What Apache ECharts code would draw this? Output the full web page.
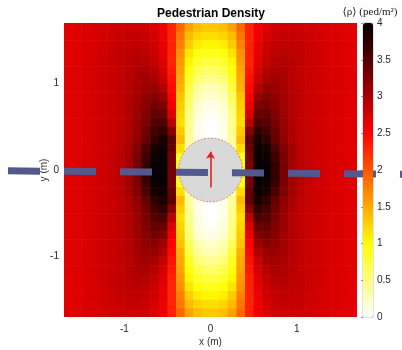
<!DOCTYPE html>
<html>
<head>
<meta charset="utf-8">
<script src="https://cdn.jsdelivr.net/npm/echarts@6/dist/echarts.min.js"></script>
<style>
  html, body { margin: 0; padding: 0; background: #ffffff; }
  #chart { width: 402px; height: 350px; }
</style>
</head>
<body>
<div id="chart"></div>
<script>
// Cell centres of the density grid (m)
const xCenters = [-1.65,-1.55,-1.45,-1.35,-1.25,-1.15,-1.05,-0.95,-0.85,-0.75,-0.65,-0.55,-0.45,-0.35,-0.25,-0.15,-0.05,
                  0.05,0.15,0.25,0.35,0.45,0.55,0.65,0.75,0.85,0.95,1.05,1.15,1.25,1.35,1.45,1.55,1.65];
const yCenters = [1.65,1.55,1.45,1.35,1.25,1.15,1.05,0.95,0.85,0.75,0.65,0.55,0.45,0.35,0.25,0.15,0.05,
                  -0.05,-0.15,-0.25,-0.35,-0.45,-0.55,-0.65,-0.75,-0.85,-0.95,-1.05,-1.15,-1.25,-1.35,-1.45,-1.55,-1.65];

// Mean density <rho> (ped/m^2), one row per yCenters entry, columns follow xCenters
const densityRows = [
  [2.66,2.68,2.7,2.72,2.74,2.77,2.79,2.8,2.8,2.77,2.7,2.58,2.3,1.9,1.55,1.38,1.32,1.32,1.38,1.55,1.9,2.3,2.58,2.7,2.77,2.8,2.8,2.79,2.77,2.74,2.72,2.7,2.68,2.66],
  [2.67,2.69,2.71,2.73,2.76,2.79,2.82,2.84,2.84,2.81,2.74,2.6,2.3,1.8,1.4,1.25,1.2,1.2,1.25,1.4,1.8,2.3,2.6,2.74,2.81,2.84,2.84,2.82,2.79,2.76,2.73,2.71,2.69,2.67],
  [2.67,2.69,2.71,2.74,2.76,2.8,2.84,2.86,2.87,2.84,2.77,2.63,2.3,1.75,1.3,1.1,1.05,1.05,1.1,1.3,1.75,2.3,2.63,2.77,2.84,2.87,2.86,2.84,2.8,2.76,2.74,2.71,2.69,2.67],
  [2.67,2.69,2.71,2.74,2.77,2.82,2.86,2.89,2.91,2.89,2.81,2.66,2.3,1.65,1.15,0.95,0.9,0.9,0.95,1.15,1.65,2.3,2.66,2.81,2.89,2.91,2.89,2.86,2.82,2.77,2.74,2.71,2.69,2.67],
  [2.67,2.69,2.71,2.74,2.78,2.83,2.88,2.92,2.95,2.94,2.86,2.7,2.3,1.6,1.05,0.82,0.75,0.75,0.82,1.05,1.6,2.3,2.7,2.86,2.94,2.95,2.92,2.88,2.83,2.78,2.74,2.71,2.69,2.67],
  [2.68,2.7,2.72,2.75,2.78,2.81,2.85,2.91,2.98,3.0,2.94,2.75,2.35,1.55,0.95,0.7,0.6,0.6,0.7,0.95,1.55,2.35,2.75,2.94,3.0,2.98,2.91,2.85,2.81,2.78,2.75,2.72,2.7,2.68],
  [2.68,2.7,2.72,2.75,2.78,2.82,2.86,2.92,3.0,3.05,3.02,2.83,2.4,1.5,0.85,0.55,0.45,0.45,0.55,0.85,1.5,2.4,2.83,3.02,3.05,3.0,2.92,2.86,2.82,2.78,2.75,2.72,2.7,2.68],
  [2.68,2.7,2.72,2.75,2.78,2.82,2.87,2.93,3.02,3.1,3.12,2.95,2.45,1.45,0.75,0.4,0.3,0.3,0.4,0.75,1.45,2.45,2.95,3.12,3.1,3.02,2.93,2.87,2.82,2.78,2.75,2.72,2.7,2.68],
  [2.68,2.7,2.72,2.75,2.78,2.82,2.87,2.94,3.04,3.15,3.22,3.1,2.5,1.35,0.65,0.3,0.2,0.2,0.3,0.65,1.35,2.5,3.1,3.22,3.15,3.04,2.94,2.87,2.82,2.78,2.75,2.72,2.7,2.68],
  [2.68,2.7,2.72,2.75,2.78,2.82,2.87,2.95,3.06,3.2,3.32,3.25,2.6,1.3,0.55,0.2,0.1,0.1,0.2,0.55,1.3,2.6,3.25,3.32,3.2,3.06,2.95,2.87,2.82,2.78,2.75,2.72,2.7,2.68],
  [2.68,2.7,2.72,2.75,2.78,2.82,2.87,2.95,3.08,3.25,3.42,3.4,2.7,1.25,0.5,0.15,0.05,0.05,0.15,0.5,1.25,2.7,3.4,3.42,3.25,3.08,2.95,2.87,2.82,2.78,2.75,2.72,2.7,2.68],
  [2.68,2.7,2.72,2.75,2.78,2.82,2.87,2.96,3.1,3.3,3.5,3.55,2.9,1.2,0.45,0.1,0,0,0.1,0.45,1.2,2.9,3.55,3.5,3.3,3.1,2.96,2.87,2.82,2.78,2.75,2.72,2.7,2.68],
  [2.68,2.7,2.72,2.75,2.78,2.83,2.88,2.97,3.12,3.35,3.6,3.7,3.2,1.3,0.45,0.1,0,0,0.1,0.45,1.3,3.2,3.7,3.6,3.35,3.12,2.97,2.88,2.83,2.78,2.75,2.72,2.7,2.68],
  [2.68,2.7,2.72,2.75,2.78,2.83,2.88,2.98,3.15,3.42,3.72,3.85,3.45,1.4,0.4,0.1,0,0,0.1,0.4,1.4,3.45,3.85,3.72,3.42,3.15,2.98,2.88,2.83,2.78,2.75,2.72,2.7,2.68],
  [2.68,2.7,2.72,2.75,2.78,2.83,2.9,3.03,3.24,3.55,3.85,3.92,3.4,1.2,0.3,0,0,0,0,0.3,1.2,3.4,3.92,3.85,3.55,3.24,3.03,2.9,2.83,2.78,2.75,2.72,2.7,2.68],
  [2.68,2.7,2.72,2.75,2.78,2.83,2.9,3.04,3.28,3.65,3.92,3.95,3.3,0.9,0,0,0,0,0,0,0.9,3.3,3.95,3.92,3.65,3.28,3.04,2.9,2.83,2.78,2.75,2.72,2.7,2.68],
  [2.68,2.7,2.72,2.75,2.78,2.83,2.9,3.05,3.3,3.7,3.95,3.95,3.3,0.9,0,0,0,0,0,0,0.9,3.3,3.95,3.95,3.7,3.3,3.05,2.9,2.83,2.78,2.75,2.72,2.7,2.68],
  [2.68,2.7,2.72,2.75,2.78,2.83,2.9,3.05,3.3,3.7,3.95,3.95,3.3,0.9,0,0,0,0,0,0,0.9,3.3,3.95,3.95,3.7,3.3,3.05,2.9,2.83,2.78,2.75,2.72,2.7,2.68],
  [2.68,2.7,2.72,2.75,2.78,2.83,2.9,3.04,3.28,3.65,3.92,3.95,3.3,0.9,0,0,0,0,0,0,0.9,3.3,3.95,3.92,3.65,3.28,3.04,2.9,2.83,2.78,2.75,2.72,2.7,2.68],
  [2.68,2.7,2.72,2.75,2.78,2.83,2.9,3.03,3.24,3.55,3.85,3.92,3.4,1.2,0.3,0,0,0,0,0.3,1.2,3.4,3.92,3.85,3.55,3.24,3.03,2.9,2.83,2.78,2.75,2.72,2.7,2.68],
  [2.68,2.7,2.72,2.75,2.78,2.83,2.88,2.98,3.15,3.42,3.72,3.85,3.45,1.4,0.4,0.1,0,0,0.1,0.4,1.4,3.45,3.85,3.72,3.42,3.15,2.98,2.88,2.83,2.78,2.75,2.72,2.7,2.68],
  [2.68,2.7,2.72,2.75,2.78,2.83,2.88,2.97,3.12,3.35,3.6,3.7,3.2,1.3,0.45,0.1,0,0,0.1,0.45,1.3,3.2,3.7,3.6,3.35,3.12,2.97,2.88,2.83,2.78,2.75,2.72,2.7,2.68],
  [2.68,2.7,2.72,2.75,2.78,2.82,2.87,2.96,3.1,3.3,3.5,3.55,2.9,1.2,0.45,0.1,0,0,0.1,0.45,1.2,2.9,3.55,3.5,3.3,3.1,2.96,2.87,2.82,2.78,2.75,2.72,2.7,2.68],
  [2.68,2.7,2.72,2.75,2.78,2.82,2.87,2.95,3.08,3.25,3.42,3.4,2.7,1.25,0.5,0.15,0.05,0.05,0.15,0.5,1.25,2.7,3.4,3.42,3.25,3.08,2.95,2.87,2.82,2.78,2.75,2.72,2.7,2.68],
  [2.68,2.7,2.72,2.75,2.78,2.82,2.87,2.95,3.06,3.2,3.32,3.25,2.6,1.3,0.55,0.2,0.1,0.1,0.2,0.55,1.3,2.6,3.25,3.32,3.2,3.06,2.95,2.87,2.82,2.78,2.75,2.72,2.7,2.68],
  [2.68,2.7,2.72,2.75,2.78,2.82,2.87,2.94,3.04,3.15,3.22,3.1,2.5,1.35,0.65,0.3,0.2,0.2,0.3,0.65,1.35,2.5,3.1,3.22,3.15,3.04,2.94,2.87,2.82,2.78,2.75,2.72,2.7,2.68],
  [2.68,2.7,2.72,2.75,2.78,2.82,2.87,2.93,3.02,3.1,3.12,2.95,2.45,1.45,0.75,0.4,0.3,0.3,0.4,0.75,1.45,2.45,2.95,3.12,3.1,3.02,2.93,2.87,2.82,2.78,2.75,2.72,2.7,2.68],
  [2.68,2.7,2.72,2.75,2.78,2.82,2.86,2.92,3.0,3.05,3.02,2.83,2.4,1.5,0.85,0.55,0.45,0.45,0.55,0.85,1.5,2.4,2.83,3.02,3.05,3.0,2.92,2.86,2.82,2.78,2.75,2.72,2.7,2.68],
  [2.68,2.7,2.72,2.75,2.78,2.81,2.85,2.91,2.98,3.0,2.94,2.75,2.35,1.55,0.95,0.7,0.6,0.6,0.7,0.95,1.55,2.35,2.75,2.94,3.0,2.98,2.91,2.85,2.81,2.78,2.75,2.72,2.7,2.68],
  [2.67,2.69,2.71,2.74,2.78,2.83,2.88,2.92,2.95,2.94,2.86,2.7,2.3,1.6,1.05,0.82,0.75,0.75,0.82,1.05,1.6,2.3,2.7,2.86,2.94,2.95,2.92,2.88,2.83,2.78,2.74,2.71,2.69,2.67],
  [2.67,2.69,2.71,2.74,2.77,2.82,2.86,2.89,2.91,2.89,2.81,2.66,2.3,1.65,1.15,0.95,0.9,0.9,0.95,1.15,1.65,2.3,2.66,2.81,2.89,2.91,2.89,2.86,2.82,2.77,2.74,2.71,2.69,2.67],
  [2.67,2.69,2.71,2.74,2.76,2.8,2.84,2.86,2.87,2.84,2.77,2.63,2.3,1.75,1.3,1.1,1.05,1.05,1.1,1.3,1.75,2.3,2.63,2.77,2.84,2.87,2.86,2.84,2.8,2.76,2.74,2.71,2.69,2.67],
  [2.67,2.69,2.71,2.73,2.76,2.79,2.82,2.84,2.84,2.81,2.74,2.6,2.3,1.8,1.4,1.25,1.2,1.2,1.25,1.4,1.8,2.3,2.6,2.74,2.81,2.84,2.84,2.82,2.79,2.76,2.73,2.71,2.69,2.67],
  [2.66,2.68,2.7,2.72,2.74,2.77,2.79,2.8,2.8,2.77,2.7,2.58,2.3,1.9,1.55,1.38,1.32,1.32,1.38,1.55,1.9,2.3,2.58,2.7,2.77,2.8,2.8,2.79,2.77,2.74,2.72,2.7,2.68,2.66]
];

// Axis tick labels
const xTicks = [-1, 0, 1];
const yTicks = [-1, 0, 1];

// Obstacle (circle centre and radius, m), walking direction arrow, lane line ends
const obstacle = [[0, 0, 0.37]];
const heading = [[0, -0.2], [0, 0.21]];
const laneLine = [[-2.35, -0.01], [2.4, -0.05]];

// Reversed "hot" colour map, evenly spaced stops from 0 to 4
const hotReversed = ['#ffffff', '#ffff80', '#ffff00', '#ffaa00', '#ff5500', '#ff0000', '#aa0000', '#550000', '#000000'];

const cells = [];
densityRows.forEach((row, j) => row.forEach((v, i) => cells.push([xCenters[i], yCenters[j], v])));
const halfW = Math.abs(xCenters[1] - xCenters[0]) / 2;
const halfH = Math.abs(yCenters[0] - yCenters[1]) / 2;

const SANS = '"Liberation Sans", Arial, sans-serif';
const SERIF = '"Liberation Serif", "DejaVu Serif", serif';
const labelStyle = { fontFamily: SANS, fontSize: 10, color: '#262626' };

const chart = echarts.init(document.getElementById('chart'), null, { renderer: 'canvas' });

chart.setOption({
  animation: false,
  backgroundColor: '#ffffff',
  graphic: [
    {
      type: 'text', x: 211, y: 14,
      style: { text: 'Pedestrian Density', fontFamily: SANS, fontSize: 12, fontWeight: 'bold',
               fill: '#000000', align: 'center', verticalAlign: 'middle' }
    },
    {
      type: 'text', x: 370, y: 12,
      style: { text: '⟨ρ⟩ (ped/m²)', fontFamily: SERIF, fontSize: 11,
               fill: '#1a1a1a', align: 'center', verticalAlign: 'middle' }
    }
  ],
  grid: [
    { left: 64, top: 23, width: 293, height: 294, outerBoundsMode: 'none', containLabel: false },
    { left: 363, top: 23, width: 10, height: 294, outerBoundsMode: 'none', containLabel: false,
      show: true, borderColor: '#c4c4c4', borderWidth: 1 }
  ],
  xAxis: [
    {
      gridIndex: 0, type: 'value', min: -1.7, max: 1.7,
      axisLine: { show: false }, axisTick: { show: false }, splitLine: { show: false },
      axisLabel: Object.assign({ customValues: xTicks, margin: 7 }, labelStyle),
      name: 'x (m)', nameLocation: 'middle', nameGap: 20, nameMoveOverlap: false,
      nameTextStyle: { fontFamily: SANS, fontSize: 10, color: '#333333' }
    },
    { gridIndex: 1, type: 'value', min: 0, max: 1, show: false }
  ],
  yAxis: [
    {
      gridIndex: 0, type: 'value', min: -1.7, max: 1.7,
      axisLine: { show: false }, axisTick: { show: false }, splitLine: { show: false },
      axisLabel: Object.assign({ customValues: yTicks, margin: 5 }, labelStyle),
      name: 'y (m)', nameLocation: 'middle', nameGap: 15, nameRotate: 90, nameMoveOverlap: false,
      nameTextStyle: { fontFamily: SANS, fontSize: 10, color: '#333333' }
    },
    {
      gridIndex: 1, type: 'value', min: 0, max: 4, interval: 0.5, position: 'right',
      axisLine: { show: false },
      axisTick: { show: true, inside: true, length: 2, lineStyle: { color: '#9a9a9a' } },
      splitLine: { show: false },
      axisLabel: Object.assign({ margin: 4 }, labelStyle)
    }
  ],
  visualMap: {
    type: 'continuous', min: 0, max: 4, seriesIndex: 0, dimension: 2,
    left: 363, top: 23, itemWidth: 10, itemHeight: 294, padding: 0,
    calculable: false, hoverLink: false, text: null,
    inRange: { color: hotReversed }
  },
  series: [
    {
      // density field
      type: 'custom', xAxisIndex: 0, yAxisIndex: 0, data: cells, clip: true, silent: true, z: 1,
      encode: { x: 0, y: 1 },
      renderItem: function (params, api) {
        const x = api.value(0), y = api.value(1);
        const p0 = api.coord([x - halfW, y + halfH]);
        const p1 = api.coord([x + halfW, y - halfH]);
        return {
          type: 'rect',
          shape: { x: p0[0], y: p0[1], width: p1[0] - p0[0] + 0.6, height: p1[1] - p0[1] + 0.6 },
          style: { fill: api.visual('color') }
        };
      }
    },
    {
      // obstacle
      type: 'custom', xAxisIndex: 0, yAxisIndex: 0, data: obstacle, silent: true, z: 2,
      encode: { x: 0, y: 1 },
      renderItem: function (params, api) {
        const c = api.coord([api.value(0), api.value(1)]);
        const r = api.size([api.value(2), 0])[0];
        return {
          type: 'circle',
          shape: { cx: c[0], cy: c[1], r: r },
          style: { fill: '#d9d9d9', stroke: '#e0605a', lineWidth: 0.8, lineDash: [2, 1.5] }
        };
      }
    },
    {
      // lane line, runs past both sides of the plot
      type: 'custom', xAxisIndex: 0, yAxisIndex: 0, clip: false, silent: true, z: 3,
      data: [[laneLine[0][0], laneLine[0][1], laneLine[1][0], laneLine[1][1]]],
      encode: { x: [0, 2], y: [1, 3] },
      renderItem: function (params, api) {
        const a = api.coord([api.value(0), api.value(1)]);
        const b = api.coord([api.value(2), api.value(3)]);
        return {
          type: 'line',
          shape: { x1: a[0], y1: a[1], x2: b[0], y2: b[1] },
          style: { stroke: '#54588f', lineWidth: 7, lineDash: [32, 24], lineCap: 'butt', fill: null }
        };
      }
    },
    {
      // walking direction
      type: 'lines', coordinateSystem: 'cartesian2d', xAxisIndex: 0, yAxisIndex: 0, silent: true, z: 4,
      data: [{ coords: heading }],
      symbol: ['none', 'arrow'], symbolSize: 7,
      lineStyle: { color: '#e3221d', width: 1.6, opacity: 1 }
    }
  ]
});
</script>
</body>
</html>
